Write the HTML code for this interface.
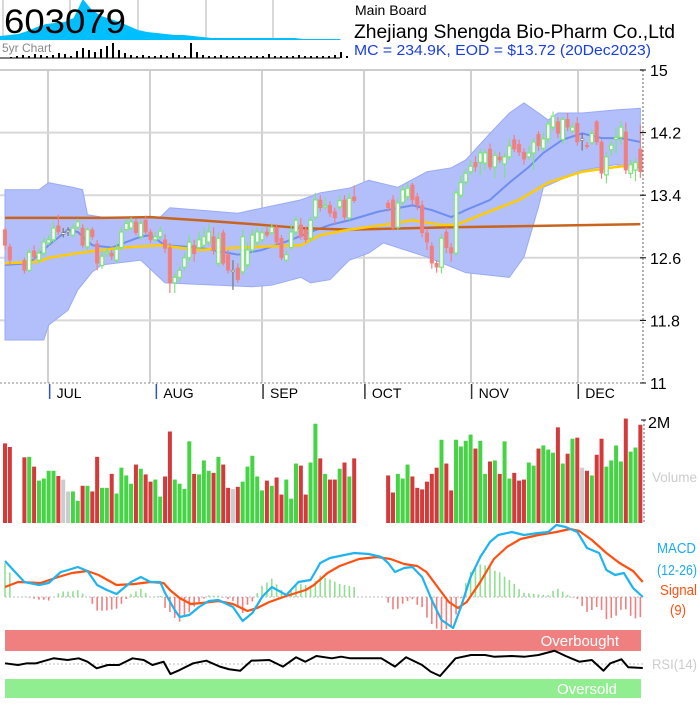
<!DOCTYPE html>
<html><head><meta charset="utf-8"><style>
body{margin:0;background:#fff;}
svg text{font-family:"Liberation Sans",Arial,sans-serif;}
</style></head><body>
<svg id="c" width="700" height="700" viewBox="0 0 700 700" xmlns="http://www.w3.org/2000/svg">
<rect width="700" height="700" fill="#fff"/>
<g id="mini"></g>
<text x="4" y="33" font-size="34" fill="#000" textLength="122" lengthAdjust="spacingAndGlyphs">603079</text>
<text x="2" y="52" font-size="12" fill="#888">5yr Chart</text>
<text x="355" y="15" font-size="14" fill="#000">Main Board</text>
<text x="354" y="38" font-size="19" fill="#000" textLength="321" lengthAdjust="spacingAndGlyphs">Zhejiang Shengda Bio-Pharm Co.,Ltd</text>
<text x="354" y="55" font-size="15" fill="#1a3ee6" textLength="297" lengthAdjust="spacingAndGlyphs">MC = 234.9K, EOD = $13.72 (20Dec2023)</text>
<g id="grid"></g>
<g id="bands"></g>
<g id="candles"></g>
<g id="axes"></g>
<g id="vol"></g>
<g id="macd"></g>
<g id="rsi"></g>
</svg>
<script>
const NS="http://www.w3.org/2000/svg";
// ---- data (slot = weekday index from 20 Jun 2023; null = holiday) ----
const opens=[12.96,12.74,null,null,12.57,12.44,12.69,12.57,12.66,12.79,12.83,13.01,12.92,12.95,12.89,12.99,12.98,12.74,12.96,12.78,12.50,12.65,12.66,12.57,12.73,12.96,12.98,13.06,12.87,13.08,12.93,12.83,12.87,12.83,12.73,12.28,12.35,12.48,12.60,12.76,12.73,12.76,12.80,12.87,12.53,12.92,12.64,12.44,12.47,12.42,12.51,12.70,12.80,12.83,12.93,12.92,12.99,12.85,12.57,12.73,12.93,13.02,12.96,12.85,13.12,13.34,13.25,13.27,13.19,13.25,13.34,13.11,13.38,null,null,null,null,null,null,13.30,13.34,12.99,13.31,13.38,13.53,13.38,13.27,12.92,12.75,12.53,12.48,12.93,12.73,12.66,13.40,13.57,13.70,13.82,13.82,13.81,13.99,13.76,13.89,13.80,13.89,14.11,14.05,13.95,13.89,13.94,14.18,14.00,14.12,14.27,14.34,14.11,14.37,14.22,14.32,14.12,14.04,14.07,14.34,14.08,13.66,13.98,14.11,14.14,14.21,13.68,13.72,13.99];
const closes=[12.76,12.57,null,null,12.44,12.67,12.61,12.66,12.80,12.83,12.98,12.93,12.91,12.94,12.98,13.06,12.76,12.96,12.87,12.53,12.62,12.67,12.62,12.71,12.93,13.04,13.06,12.92,13.04,12.93,12.83,12.87,12.94,12.72,12.28,12.35,12.44,12.60,12.80,12.65,12.83,12.87,12.93,12.70,12.85,12.53,12.44,12.44,12.32,12.87,12.70,12.89,12.93,12.92,12.89,12.99,12.80,12.60,12.64,12.93,13.08,12.87,12.83,13.08,13.34,13.24,13.27,13.17,13.11,13.33,13.12,13.36,13.33,null,null,null,null,null,null,13.24,12.98,13.30,13.47,13.49,13.34,13.27,12.92,12.80,12.53,12.48,12.85,12.73,12.66,13.43,13.56,13.68,13.77,13.76,13.94,13.94,13.76,13.91,13.85,13.89,14.03,13.99,13.95,13.86,13.94,14.08,14.03,14.12,14.31,14.41,14.19,14.37,14.27,14.27,14.08,14.11,14.02,14.19,14.08,13.68,13.89,14.04,14.14,14.27,13.72,13.79,13.82,13.70];
const highs=[12.99,12.78,null,null,12.60,12.72,12.76,12.72,12.86,12.89,13.06,13.15,12.98,12.99,13.03,13.10,13.03,12.99,12.99,12.83,12.70,12.73,12.70,12.79,12.99,13.10,13.12,13.10,13.08,13.14,12.97,12.93,13.00,12.90,12.79,12.40,12.50,12.66,12.89,12.83,12.93,12.99,13.03,12.99,12.93,12.96,12.70,12.57,12.53,12.96,12.79,12.96,12.99,12.99,12.99,13.04,13.03,12.89,12.70,13.03,13.13,13.11,13.00,13.12,13.43,13.40,13.38,13.32,13.24,13.40,13.40,13.43,13.52,null,null,null,null,null,null,13.34,13.40,13.36,13.52,13.56,13.56,13.43,13.33,12.96,12.80,12.57,12.90,12.99,12.79,13.47,13.65,13.74,13.85,13.90,14.00,13.99,14.06,13.97,13.95,13.94,14.13,14.17,14.11,14.00,14.03,14.13,14.22,14.20,14.35,14.47,14.40,14.40,14.45,14.33,14.40,14.19,14.08,14.24,14.36,14.11,13.95,14.10,14.25,14.35,14.33,13.85,13.88,14.30];
const lows=[12.70,12.51,null,null,12.40,12.42,12.57,12.53,12.62,12.76,12.80,12.89,12.86,12.88,12.86,12.96,12.73,12.70,12.83,12.44,12.46,12.61,12.57,12.53,12.70,12.93,12.95,12.89,12.83,12.90,12.79,12.80,12.83,12.66,12.15,12.15,12.30,12.44,12.55,12.55,12.70,12.73,12.76,12.64,12.48,12.50,12.40,12.19,12.28,12.38,12.46,12.66,12.76,12.79,12.86,12.89,12.76,12.57,12.55,12.70,12.89,12.83,12.79,12.80,13.08,13.19,13.21,13.12,13.03,13.21,13.08,13.08,13.30,null,null,null,null,null,null,13.19,12.95,12.96,13.27,13.34,13.28,13.21,12.86,12.70,12.46,12.41,12.40,12.66,12.55,12.62,13.36,13.53,13.66,13.70,13.65,13.72,13.72,13.62,13.81,13.62,13.85,13.95,13.90,13.79,13.85,13.72,13.97,13.96,14.06,14.22,14.13,14.06,14.22,14.19,14.03,13.97,13.99,14.04,14.04,13.61,13.55,13.90,13.93,14.04,13.67,13.62,13.58,13.62];
const volumes=[1.54,1.47,null,null,1.27,1.28,1.09,0.82,0.86,1.01,1.01,0.91,0.84,0.61,0.61,0.43,0.72,0.72,0.61,1.28,0.68,0.68,0.95,0.57,1.07,0.92,0.76,1.13,1.05,0.94,0.80,0.84,0.51,0.90,1.77,0.84,0.76,0.66,1.58,0.95,0.94,1.21,1.01,0.97,1.28,1.13,0.68,0.66,0.70,0.80,1.09,1.30,0.90,0.63,0.82,0.72,0.88,0.55,0.84,0.47,1.15,1.11,0.55,1.17,1.92,1.25,0.95,0.84,0.84,1.05,1.17,0.90,1.25,null,null,null,null,null,null,0.92,0.59,0.95,0.86,1.13,0.90,0.68,0.65,0.80,0.95,1.07,1.61,1.15,0.63,1.61,1.48,1.59,1.71,1.44,1.59,0.95,1.19,1.21,0.95,1.58,0.86,0.97,0.82,0.84,1.17,1.11,1.44,1.50,1.42,1.36,1.85,1.15,1.34,1.63,1.65,1.07,1.01,0.92,1.32,1.63,1.09,1.21,1.50,1.19,2.02,1.38,1.46,1.90];
const bbUpper=[[0,13.47],[7,13.47],[9,13.56],[14,13.50],[16,13.47],[17,13.15],[20,13.12],[32,13.12],[34,13.24],[48,13.17],[61,13.34],[65,13.43],[71,13.49],[75,13.59],[81,13.50],[87,13.70],[92,13.75],[95,13.85],[100,14.19],[104,14.45],[107,14.58],[110,14.45],[112,14.36],[114,14.45],[119,14.45],[126,14.49],[131,14.51]];
const bbLower=[[0,11.55],[8,11.55],[9,11.74],[13,11.93],[15,12.19],[18,12.42],[20,12.51],[28,12.57],[33,12.28],[51,12.23],[55,12.25],[61,12.35],[63,12.28],[67,12.32],[71,12.57],[75,12.66],[78,12.79],[87,12.61],[95,12.41],[104,12.35],[107,12.61],[110,13.25],[111,13.50],[119,13.72],[123,13.76],[126,13.79],[131,13.75]];
const bbMid=[[0,12.51],[5,12.53],[9,12.76],[13,12.96],[15,12.93],[18,12.76],[22,12.73],[28,12.87],[30,12.89],[33,12.76],[40,12.73],[48,12.64],[53,12.70],[59,12.83],[63,12.93],[67,13.02],[71,13.08],[77,13.19],[84,13.27],[88,13.21],[92,13.12],[95,13.21],[100,13.34],[104,13.56],[108,13.76],[111,13.94],[115,14.11],[119,14.19],[123,14.13],[127,14.13],[131,14.08]];
const ma50=[[0,12.53],[7,12.55],[9,12.60],[15,12.66],[24,12.73],[32,12.76],[40,12.70],[48,12.73],[61,12.76],[65,12.89],[71,12.96],[78,13.02],[84,13.08],[90,13.02],[93,13.02],[99,13.17],[106,13.34],[112,13.56],[119,13.70],[126,13.76],[131,13.79]];
const ma200=[[0,13.11],[20,13.11],[30,13.12],[40,13.08],[51,13.03],[61,12.98],[71,12.96],[92,12.99],[131,13.03]];
const macdLine=[[0,0.36],[1.7,0.27],[4,0.15],[7,0.12],[9,0.14],[11.5,0.25],[13,0.27],[15,0.30],[17,0.26],[19,0.12],[21,0.07],[23,0.03],[26,0.15],[28,0.20],[30,0.15],[32,0.15],[33,0.04],[35,-0.13],[36,-0.20],[38,-0.18],[40,-0.10],[42,-0.04],[44,-0.03],[47,-0.10],[49,-0.24],[51,-0.16],[53,0.00],[55,0.10],[58,0.02],[60.5,0.15],[63,0.17],[65,0.34],[67,0.39],[69,0.41],[72,0.44],[75,0.43],[77.6,0.40],[79,0.34],[80.4,0.25],[82.3,0.29],[84,0.30],[86,0.20],[88,-0.03],[90,-0.23],[92.4,-0.31],[94,-0.10],[96,0.20],[98,0.40],[100,0.55],[101.7,0.62],[104.5,0.65],[107,0.62],[110,0.64],[112,0.65],[113.7,0.72],[115.6,0.70],[118,0.65],[120,0.49],[122.5,0.44],[124,0.27],[125.8,0.22],[127.6,0.24],[129.5,0.09],[131.5,0.00]];
const signalLine=[[0,0.10],[2.7,0.15],[7.3,0.14],[11,0.20],[13.8,0.24],[17,0.26],[19.3,0.22],[23,0.12],[26.7,0.13],[30,0.15],[32.7,0.14],[34,0.07],[36,-0.01],[38.3,-0.07],[40.6,-0.06],[44,-0.04],[47,-0.07],[50,-0.14],[52,-0.11],[54.5,-0.05],[58,0.01],[62,0.07],[63.7,0.12],[66.5,0.24],[69,0.31],[73,0.38],[76.7,0.40],[79.5,0.38],[82.3,0.33],[85,0.31],[86.9,0.25],[89.2,0.10],[91.5,-0.05],[93.4,-0.11],[95.2,-0.05],[98,0.15],[100.8,0.38],[103.5,0.50],[106.3,0.58],[110,0.62],[113.7,0.65],[116.5,0.68],[118.4,0.66],[121,0.57],[124,0.44],[126.7,0.34],[129.5,0.26],[131.5,0.15]];
const rsiLine=[[0,50.8],[2.7,48.8],[4.5,50.8],[6.4,50.8],[10,56.7],[12.9,54.7],[15.2,56.7],[17,52.7],[18.9,44.9],[21.2,48.8],[23.5,48.8],[26.3,56.7],[28.6,54.7],[30.4,48.8],[32.7,52.7],[34.1,38.2],[36,42.9],[38.8,50.8],[41.5,53.9],[44.3,46.9],[46.2,43.8],[48.5,42.1],[50.8,53.9],[54.5,54.7],[57.3,46.9],[60,57.9],[61.9,52.7],[64.2,59.4],[67.4,56.7],[69.3,58.6],[71.2,56.7],[77.6,56.7],[80.4,46.9],[82.7,57.9],[86,48.8],[87.8,40.9],[89.7,35.9],[92.9,56.7],[96.1,60.6],[99,60.6],[100.8,58.6],[104.5,59.4],[107.2,58.6],[110,60.6],[113.3,65.6],[115.6,59.4],[118.4,52.7],[121,54.7],[123.4,42.1],[124.8,50.8],[127.1,55.5],[128.5,46.2],[131.5,45.3]];
const priceTicks=[15,14.2,13.4,12.6,11.8,11];
const monthLabels=["JUL","AUG","SEP","OCT","NOV","DEC"];
const monthSlots=[9,31,53,74,96,118];
const miniArea=[4,5,6,9,13,16,17,18,22,41,30,24,21,18,14,10,8,7,6,5,5,4,3,2,2,2,2,2,2,2,2,2,2,1,1,1,1,1];
const miniVol=[1,2,3,2,4,3,2,3,5,4,2,7,10,8,6,9,12,15,8,5,3,2,3,2,2,3,2,5,3,2,15,6,3,2,2,3,2,2,2,2,2,2,2,4,2,2,2,2,3,2,2,2,2,2,3,6,2];
// ---- scales ----
const xs=s=>5+s*4.85;
const yP=p=>70+(15-p)*78.25;
const yV=v=>523-v*51.7;
const yM=m=>597-m*100;
const yR=r=>664-(r-50)*0.85;
function mk(tag,attrs,parent){const e=document.createElementNS(NS,tag);for(const k in attrs)e.setAttribute(k,attrs[k]);parent.appendChild(e);return e;}
const $=id=>document.getElementById(id);
function interp(arr,s){for(let i=0;i<arr.length-1;i++){if(s>=arr[i][0]&&s<=arr[i+1][0]){const t=(s-arr[i][0])/(arr[i+1][0]-arr[i][0]);return arr[i][1]+t*(arr[i+1][1]-arr[i][1]);}}return s<arr[0][0]?arr[0][1]:arr[arr.length-1][1];}
// mini chart
const mini=$('mini');
[3,70,138,206,273].forEach(x=>{const l=mk('line',{x1:x,y1:0,x2:x,y2:40,stroke:'#ccc','stroke-width':1.5},mini);});
let pts='0,40 ';miniArea.forEach((v,i)=>{pts+=(i*9.2)+','+(40-v)+' ';});pts+=((miniArea.length-1)*9.2)+',40';
const ma=mk('polygon',{points:pts,fill:'#00bfff'},mini);
miniVol.forEach((v,i)=>{const r=mk('rect',{x:10+i*6,y:58-v,width:2,height:v,fill:'#000'},mini);});
mk('line',{x1:0,y1:58,x2:340,y2:58,stroke:'#000','stroke-width':1},mini);
// grid
const g=$('grid');
[48,150,262,364,471,578].forEach(x=>{const l=mk('line',{x1:x,y1:70,x2:x,y2:383,stroke:'#d0d0d0','stroke-width':2},g);});
priceTicks.slice(1,5).forEach(p=>{const l=mk('line',{x1:0,y1:yP(p),x2:643,y2:yP(p),stroke:'#d8d8d8','stroke-width':2},g);});
mk('line',{x1:0,y1:70,x2:643,y2:70,stroke:'#ccc','stroke-width':2},g);
// bands & MAs
const b=$('bands');
let bp='';bbUpper.forEach(d=>bp+=xs(d[0])+','+yP(d[1])+' ');bbLower.slice().reverse().forEach(d=>bp+=xs(d[0])+','+yP(d[1])+' ');
const band=mk('polygon',{points:bp,fill:'#b3bffa',stroke:'#9aaaf5','stroke-width':1},b);
function line(arr,col,w,name,par,yf){const p=arr.map(d=>xs(d[0])+','+yf(d[1])).join(' ');const e=mk('polyline',{points:p,fill:'none',stroke:col,'stroke-width':w,'stroke-linejoin':'round'},par);return e;}
line(bbMid,'#6f8ef0',2,'sma20-line',b,yP);
line(ma200,'#c8641e',2.5,'ma200-line',b,yP);
line(ma50,'#ffcc00',2.5,'ma50-line',b,yP);
// candles
const cg=$('candles');
for(let i=0;i<opens.length;i++){if(opens[i]===null)continue;const o=opens[i],c=closes[i],x=xs(i);
 const up=c>o,doji=Math.abs(c-o)<0.015;const col=doji?'#777':(up?'#7ee37e':'#f08080');
 const w=mk('line',{x1:x,y1:yP(highs[i]),x2:x,y2:yP(lows[i]),stroke:col,'stroke-width':1.2},cg);
 const top=yP(Math.max(o,c)),h=Math.max(1.5,yP(Math.min(o,c))-top);
 const r=mk('rect',{x:x-1.8,y:top,width:3.6,height:h,fill:up||doji?'#fff':'#f08080',stroke:col,'stroke-width':up?1.2:0.5},cg);}
// axes
const a=$('axes');
mk('line',{x1:643,y1:70,x2:643,y2:383,stroke:'#666','stroke-width':1,'stroke-dasharray':'2,2'},a);
mk('line',{x1:0,y1:383,x2:643,y2:383,stroke:'#888','stroke-width':1,'stroke-dasharray':'2,2'},a);
priceTicks.forEach(p=>{mk('line',{x1:640,y1:yP(p),x2:646,y2:yP(p),stroke:'#000','stroke-width':1},a);const t=mk('text',{x:650,y:yP(p)+6,'font-size':16,fill:'#000'},a);t.textContent=p;});
monthLabels.forEach((m,i)=>{const x=xs(monthSlots[i])+1;mk('line',{x1:x,y1:384,x2:x,y2:399,stroke:i<2?'#3050d0':'#333','stroke-width':1.5},a);const t=mk('text',{x:x+7,y:398,'font-size':14,fill:'#000'},a);t.textContent=m;});
// volume
const vg=$('vol');
for(let i=0;i<volumes.length;i++){if(volumes[i]===null)continue;const o=opens[i],c=closes[i];const doji=Math.abs(c-o)<0.015;
 const col=doji?'#ccc':(c>o?'#44d444':'#d43a3a');
 const r=mk('rect',{x:xs(i)-2,y:yV(volumes[i]),width:4,height:523-yV(volumes[i]),fill:col},vg);}
mk('line',{x1:644,y1:420,x2:644,y2:523,stroke:'#666','stroke-width':1,'stroke-dasharray':'2,2'},vg);
mk('line',{x1:641,y1:420,x2:646,y2:420,stroke:'#000'},vg);
let t=mk('text',{x:648,y:428,'font-size':16,fill:'#000'},vg);t.textContent='2M';
t=mk('text',{x:652,y:482,'font-size':14,fill:'#ccc',textLength:45,lengthAdjust:'spacingAndGlyphs'},vg);t.textContent='Volume';
// macd
const mg=$('macd');
mk('line',{x1:5,y1:yM(0),x2:643,y2:yM(0),stroke:'#bbb','stroke-width':1,'stroke-dasharray':'2,2'},mg);
for(let i=0;i<opens.length;i++){if(opens[i]===null)continue;const d=(interp(macdLine,i)-interp(signalLine,i))*1.3;
 const y1=yM(0),y2=yM(d);const r=mk('rect',{x:xs(i)-0.8,y:Math.min(y1,y2),width:1.6,height:Math.abs(y2-y1),fill:d>=0?'#90e090':'#f08080'},mg);}
line(signalLine,'#ff5010',2.2,'signal-line',mg,yM);
line(macdLine,'#1eb4f0',2.2,'macd-line',mg,yM);
[['MACD',657,553,'#1eaaf0',39],['(12-26)',657,575,'#1eaaf0',40],['Signal',660,595,'#ff5010',37],['(9)',670,615,'#ff5010',16]].forEach(l=>{const e=mk('text',{x:l[1],y:l[2],'font-size':15,fill:l[3],textLength:l[4],lengthAdjust:'spacingAndGlyphs'},mg);e.textContent=l[0];});
// rsi
const rg=$('rsi');
let e=mk('rect',{x:5,y:630,width:636,height:21,fill:'#f08080'},rg);
e=mk('text',{x:619,y:646,'font-size':15,fill:'#fff','text-anchor':'end'},rg);e.textContent='Overbought';
e=mk('rect',{x:5,y:679,width:636,height:19,fill:'#90ee90'},rg);
e=mk('text',{x:617,y:694,'font-size':15,fill:'#fff','text-anchor':'end'},rg);e.textContent='Oversold';
mk('line',{x1:5,y1:yR(50),x2:643,y2:yR(50),stroke:'#bbb','stroke-width':1,'stroke-dasharray':'2,2'},rg);
line(rsiLine,'#000',2,'rsi-line',rg,yR);
e=mk('text',{x:652,y:669,'font-size':14,fill:'#ccc',textLength:45,lengthAdjust:'spacingAndGlyphs'},rg);e.textContent='RSI(14)';
</script>
</body></html>
